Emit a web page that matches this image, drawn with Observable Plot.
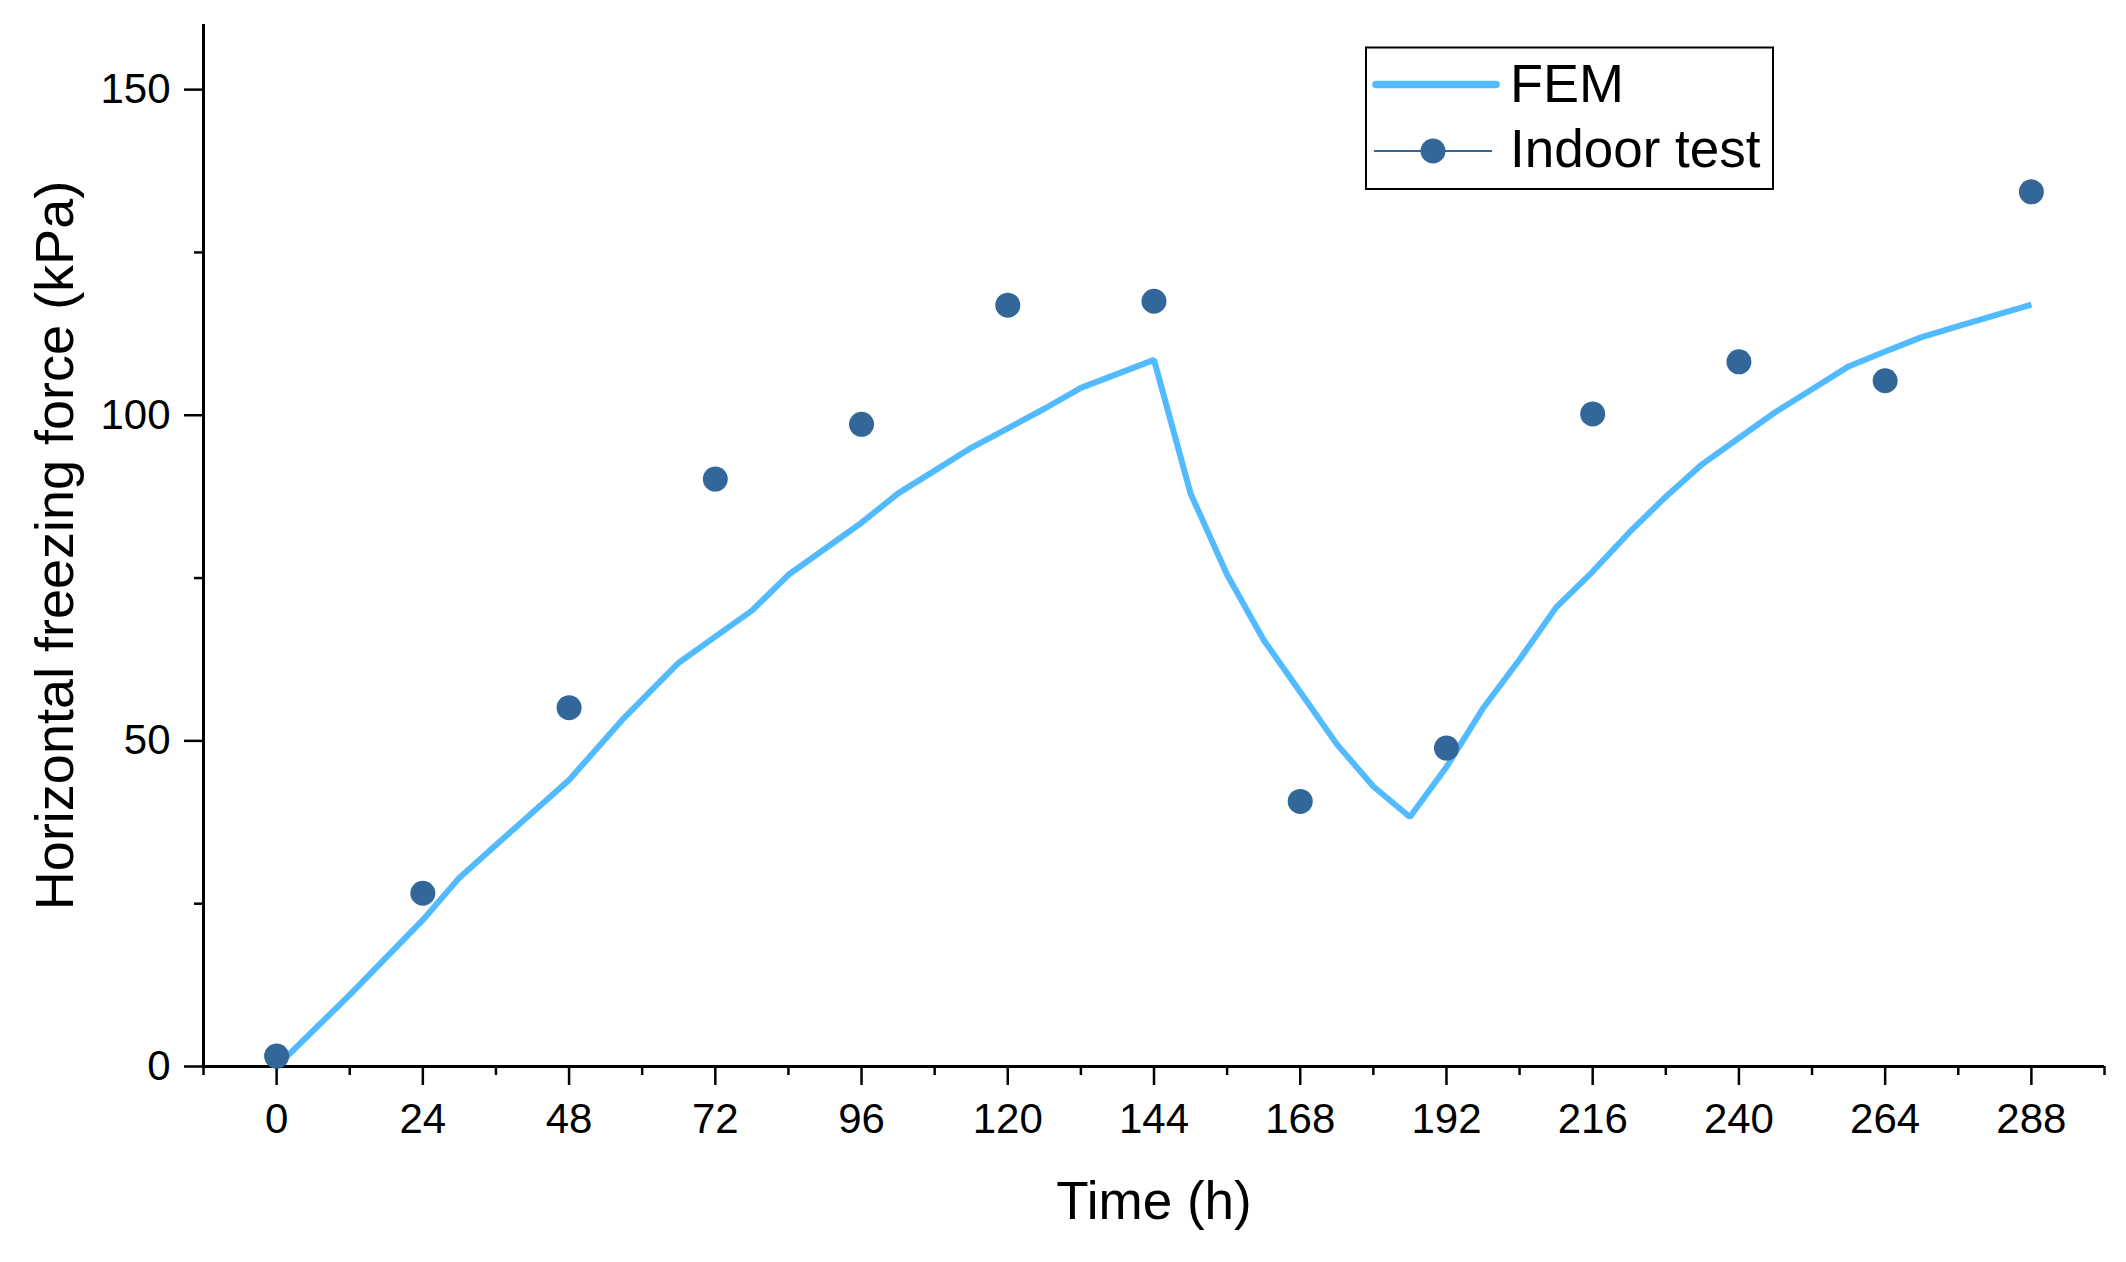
<!DOCTYPE html>
<html>
<head>
<meta charset="utf-8">
<script src="https://cdn.jsdelivr.net/npm/d3@7"></script>
<script src="https://cdn.jsdelivr.net/npm/@observablehq/plot@0.6"></script>
<style>
  html, body { margin: 0; padding: 0; background: #fff; }
  #chart { width: 2126px; height: 1262px; }
</style>
</head>
<body>
<div id="chart"></div>
<script>
// ---- data ----
const testTime  = [0, 24, 48, 72, 96, 120, 144, 168, 192, 216, 240, 264, 288];
const testForce = [1.6, 26.6, 55.1, 90.2, 98.6, 116.9, 117.5, 40.7, 48.9, 100.2, 108.2, 105.3, 134.3];

const femTime  = [0, 12, 24, 30, 36, 48, 57, 66, 72, 78, 84, 90, 96, 102, 108, 114, 120, 126, 132, 144,
                  150, 156, 162, 168, 174, 180, 186, 192, 198, 204, 210, 216, 222, 228, 234, 240, 246, 252, 258, 264, 270, 276, 288];
const femForce = [0, 11, 22.5, 29, 34, 44, 53.5, 62, 66, 70, 75.5, 79.5, 83.5, 88, 91.5, 95, 98, 101, 104.2, 108.5,
                  88, 75.5, 65.5, 57.5, 49.5, 43, 38.3, 46, 55, 62.5, 70.5, 76, 82, 87.5, 92.5, 96.5, 100.5, 104, 107.5, 109.8, 112, 113.7, 117];

const xMajorTicks = [0, 24, 48, 72, 96, 120, 144, 168, 192, 216, 240, 264, 288];
const xMinorTicks = [-12, 12, 36, 60, 84, 108, 132, 156, 180, 204, 228, 252, 276, 300];
const yMajorTicks = [0, 50, 100, 150];
const yMinorTicks = [25, 75, 125];

const seriesNames = ["FEM", "Indoor test"];
const xTitle = "Time (h)";
const yTitle = "Horizontal freezing force (kPa)";

// ---- tables built from the arrays ----
const fem  = femTime.map((t, i) => ({t, v: femForce[i]}));
const test = testTime.map((t, i) => ({t, v: testForce[i]}));

const femColor  = "#52baff";
const testColor = "#336699";
const font = "'Liberation Sans', Arial, Helvetica, sans-serif";

const plot = Plot.plot({
  width: 2126,
  height: 1262,
  marginLeft: 203,
  marginRight: 22,
  marginTop: 24,
  marginBottom: 196,
  style: {fontFamily: font, background: "white", color: "black", overflow: "visible"},
  x: {domain: [-12, 300]},
  y: {domain: [0, 160]},
  marks: [
    Plot.axisX(xMinorTicks, {tickSize: 9, strokeWidth: 2.5, fill: "none", label: null}),
    Plot.axisX(xMajorTicks, {tickSize: 19, tickPadding: 18, strokeWidth: 2.5, fontSize: 42, label: null}),
    Plot.axisY(yMinorTicks, {tickSize: 9, strokeWidth: 2.5, fill: "none", label: null}),
    Plot.axisY(yMajorTicks, {tickSize: 19, tickPadding: 14, strokeWidth: 2.5, fontSize: 42, label: null}),
    Plot.ruleY([0], {stroke: "black", strokeWidth: 3}),
    Plot.ruleX([-12], {stroke: "black", strokeWidth: 3}),
    Plot.line(fem, {x: "t", y: "v", stroke: femColor, strokeWidth: 6, strokeLinejoin: "miter", strokeLinecap: "butt"}),
    Plot.dot(test, {x: "t", y: "v", r: 12.5, fill: testColor, stroke: "none"}),
    Plot.text([yTitle], {text: d => d, frameAnchor: "left", rotate: -90, dx: -148, textAnchor: "middle", lineAnchor: "middle", fontSize: 54, fill: "black"}),
    Plot.text([xTitle], {text: d => d, frameAnchor: "bottom", dy: 152, textAnchor: "middle", lineAnchor: "bottom", fontSize: 53, fill: "black"})
  ]
});

// ---- legend (inside the plot area, top right) ----
const svg = d3.select(plot);
const lg = svg.append("g").attr("font-family", font).attr("text-anchor", "start");
lg.append("rect")
  .attr("x", 1366).attr("y", 47.5).attr("width", 407).attr("height", 141.5)
  .attr("fill", "white").attr("stroke", "black").attr("stroke-width", 2);
lg.append("line")
  .attr("x1", 1376).attr("x2", 1496).attr("y1", 84.5).attr("y2", 84.5)
  .attr("stroke", femColor).attr("stroke-width", 7.5).attr("stroke-linecap", "round");
lg.append("text").attr("x", 1510).attr("y", 101.5).attr("font-size", 54)
  .attr("text-anchor", "start").attr("fill", "black").text(seriesNames[0]);
lg.append("line")
  .attr("x1", 1374).attr("x2", 1492).attr("y1", 151).attr("y2", 151)
  .attr("stroke", testColor).attr("stroke-width", 2);
lg.append("circle").attr("cx", 1433).attr("cy", 151).attr("r", 12.5).attr("fill", testColor);
lg.append("text").attr("x", 1510).attr("y", 167).attr("font-size", 53)
  .attr("text-anchor", "start").attr("fill", "black").text(seriesNames[1]);

document.getElementById("chart").appendChild(plot);
</script>
</body>
</html>
